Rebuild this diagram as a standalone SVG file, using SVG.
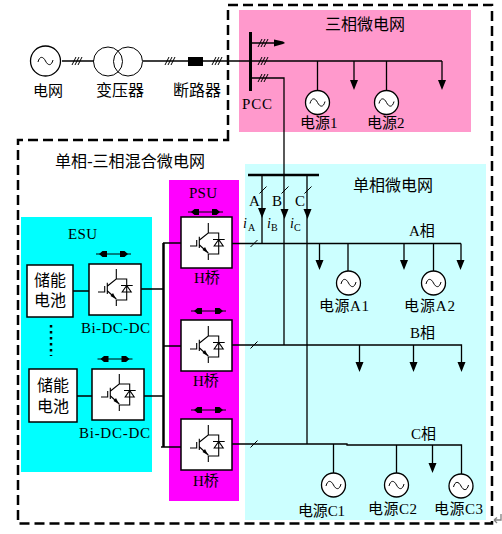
<svg xmlns="http://www.w3.org/2000/svg" xmlns:xlink="http://www.w3.org/1999/xlink" width="502" height="534" viewBox="0 0 502 534">
<style>
text{font-family:"Liberation Serif","Noto Sans CJK SC",serif;font-size:16px;fill:#000}
.s{font-size:15px}
.i{font-style:italic;font-size:14px}
.sub{font-size:10px}
.w{fill:none;stroke:#000;stroke-width:1.3}
.t{fill:none;stroke:#000;stroke-width:1}
.ig{fill:none;stroke:#000;stroke-width:1.1}
.box{fill:#fff;stroke:#000;stroke-width:1.5}
.gen{fill:#fff;stroke:#000;stroke-width:1.3}
.h{fill:#000}
</style>
<defs>
<g id="igbt">
<path class="ig" d="M9 29H15.700V23M18.300 19.700V31M18.500 23L27.300 16V6M27.300 16H37.700V37H27.300V43M27.300 36L18.500 28M32 22.500H43.700M37.700 22.500L33.200 29H42.200Z"/>
<path class="h" d="M27 36L21.500 33L24 30Z"/>
</g>
<g id="sine"><path class="t" d="M-7.500 1C-6 -5 -2.500 -5 0 0S6 5 7.500 -1"/></g>
<g id="src"><circle class="gen" r="12"/><use xlink:href="#sine"/></g>
<g id="down"><path class="h" d="M-4 -10H4L1.200 -3L0 0L-1.200 -3Z"/></g>
<g id="bi"><path class="t" d="M0 0H35"/><path class="h" d="M3 0L6.500 -3H11V3H6.500ZM32 0L28.500 -3H24V3H28.500Z"/></g>
<g id="h3"><path class="t" d="M-4 4L0 -4M-1 4L3 -4M2 4L6 -4"/></g>
<path id="sl" class="t" d="M-3.500 3.500L3.500 -3.500"/>
</defs>

<g id="background">
<rect x="239" y="10" width="232" height="122" fill="#ff99cc"/>
<rect x="245" y="164" width="241" height="356" fill="#ccffff"/>
<rect x="169" y="180" width="70" height="321" fill="#ff00ff"/>
<rect x="21" y="217" width="131" height="255" fill="#00ffff"/>
<path d="M228 140V5H492V523.500H18V140Z" fill="none" stroke="#000" stroke-width="2.500" stroke-dasharray="10 5"/>
</g>

<g id="connectors">
<path class="w" d="M62 61H94M143 61H188M203 61H442M250 43H277M250 78H284V345M317.500 61V91M354 61V82M386.500 61V91M442 61V82"/>
<path class="w" d="M262 175V243M307 175V444M232 243.500H461M461 243.500V262M319.500 243.500V262M348 243.500V271M404 243.500V262M433.500 243.500V271"/>
<path class="w" d="M232 345H461.500V364M359.500 345V364M413.500 345V364"/>
<path class="w" d="M232 444H347V445H461.500V474M333.500 444V473M396.500 445V473M432.500 445V466"/>
<path d="M163.500 243V447" fill="none" stroke="#000" stroke-width="2.500"/>
<path class="w" d="M163 243H181M163 346H181M161 447H181M141 289H163M144 396H163M73 291H89M77 396H92"/>
<path d="M248 175H319" fill="none" stroke="#000" stroke-width="2.500"/>
<path d="M250.500 32V91" fill="none" stroke="#000" stroke-width="3"/>
<path d="M51 325V356" fill="none" stroke="#000" stroke-width="2.500" stroke-dasharray="2.500 3.500"/>
<use xlink:href="#h3" x="76" y="61"/><use xlink:href="#h3" x="169" y="61"/><use xlink:href="#h3" x="216" y="61"/>
<use xlink:href="#h3" x="262" y="43"/><use xlink:href="#h3" x="262" y="61"/><use xlink:href="#h3" x="262" y="78"/>
<use xlink:href="#sl" x="263" y="190"/><use xlink:href="#sl" x="285" y="190"/><use xlink:href="#sl" x="308" y="190"/>
<use xlink:href="#sl" x="254" y="243.500"/><use xlink:href="#sl" x="254" y="345"/><use xlink:href="#sl" x="254" y="444"/>
<path class="h" d="M274 39.500L283 41.500L285 43L283 44L274 46.500Z"/>
<use xlink:href="#down" x="354" y="90"/><use xlink:href="#down" x="442" y="90"/>
<use xlink:href="#down" x="262" y="218"/><use xlink:href="#down" x="284.500" y="219"/><use xlink:href="#down" x="307.500" y="219"/>
<use xlink:href="#down" x="319.500" y="270"/><use xlink:href="#down" x="404" y="270"/><use xlink:href="#down" x="460.500" y="270"/>
<use xlink:href="#down" x="359.500" y="372"/><use xlink:href="#down" x="413.500" y="372"/><use xlink:href="#down" x="461.500" y="372"/>
<use xlink:href="#down" x="432.500" y="473"/>
<use xlink:href="#bi" x="188" y="212"/><use xlink:href="#bi" x="191" y="311"/><use xlink:href="#bi" x="191" y="410"/>
<use xlink:href="#bi" x="96" y="254"/><use xlink:href="#bi" x="97.500" y="359"/>
</g>

<g id="grid"><circle cx="45.500" cy="61" r="15" class="gen"/><use xlink:href="#sine" x="45.500" y="61"/><text x="33" y="96" class="s">电网</text></g>
<g id="transformer"><circle cx="108" cy="61.500" r="14.500" class="t"/><circle cx="128" cy="61.500" r="14.500" class="t"/><text x="96" y="96">变压器</text></g>
<g id="breaker"><rect x="188" y="57" width="15" height="9" fill="#000"/><text x="173" y="96">断路器</text></g>
<g id="title-hybrid"><text x="55" y="167" textLength="150">单相-三相混合微电网</text></g>
<g id="pcc"><text x="242" y="109" class="s" textLength="30">PCC</text></g>
<g id="title-three"><text x="325" y="30">三相微电网</text></g>
<g id="s1"><use xlink:href="#src" x="317.500" y="102.500"/><text x="300" y="128" class="s">电源1</text></g>
<g id="s2"><use xlink:href="#src" x="386.500" y="102.500"/><text x="367" y="128" class="s">电源2</text></g>
<g id="title-single"><text x="353" y="191">单相微电网</text></g>
<g id="labels-abc">
<text x="249" y="206" class="s">A</text><text x="272" y="206" class="s">B</text><text x="295" y="206" class="s">C</text>
<text x="243" y="228" class="i">i</text><text x="248" y="231" class="sub">A</text>
<text x="267" y="228" class="i">i</text><text x="271" y="231" class="sub">B</text>
<text x="290" y="228" class="i">i</text><text x="294" y="231" class="sub">C</text>
<text x="409" y="236" class="s">A相</text><text x="410" y="338" class="s">B相</text><text x="411" y="439" class="s">C相</text>
</g>
<g id="sa1"><use xlink:href="#src" x="348.500" y="283"/><text x="319" y="311" class="s" textLength="50">电源A1</text></g>
<g id="sa2"><use xlink:href="#src" x="433.500" y="283"/><text x="404" y="311" class="s" textLength="51">电源A2</text></g>
<g id="sc1"><use xlink:href="#src" x="333.500" y="485"/><text x="298" y="516" class="s" textLength="47">电源C1</text></g>
<g id="sc2"><use xlink:href="#src" x="396.500" y="485"/><text x="368" y="514" class="s" textLength="49">电源C2</text></g>
<g id="sc3"><use xlink:href="#src" x="461" y="486"/><text x="434" y="514" class="s" textLength="49">电源C3</text></g>

<g id="psu"><text x="189" y="198" class="s" textLength="28">PSU</text></g>
<g id="h1"><rect x="181" y="217" width="51" height="51" class="box"/><use xlink:href="#igbt" x="181" y="217"/><text x="194" y="283" class="s">H桥</text></g>
<g id="h2"><rect x="181" y="320" width="51" height="51" class="box"/><use xlink:href="#igbt" x="181" y="320"/><text x="193" y="386" class="s">H桥</text></g>
<g id="h3b"><rect x="181" y="419" width="51" height="51" class="box"/><use xlink:href="#igbt" x="181" y="419"/><text x="193" y="486" class="s">H桥</text></g>
<g id="esu"><text x="68" y="239" class="s" textLength="29">ESU</text></g>
<g id="bat1"><rect x="27" y="265" width="46" height="52" class="box"/><text x="34" y="286">储能</text><text x="34" y="306">电池</text></g>
<g id="bat2"><rect x="29" y="369" width="48" height="53" class="box"/><text x="37" y="391">储能</text><text x="37" y="412">电池</text></g>
<g id="dc1"><rect x="89" y="264" width="52" height="51" class="box"/><use xlink:href="#igbt" x="89" y="263"/><text x="81" y="333" class="s" textLength="69">Bi-DC-DC</text></g>
<g id="dc2"><rect x="92" y="369" width="52" height="51" class="box"/><use xlink:href="#igbt" x="92" y="368"/><text x="79" y="438" class="s" textLength="71">Bi-DC-DC</text></g>
<g id="mark"><path d="M501 514V520H494M494 520L497 517.500M494 520L497 523" fill="none" stroke="#808080" stroke-width="1.300"/></g>
</svg>
